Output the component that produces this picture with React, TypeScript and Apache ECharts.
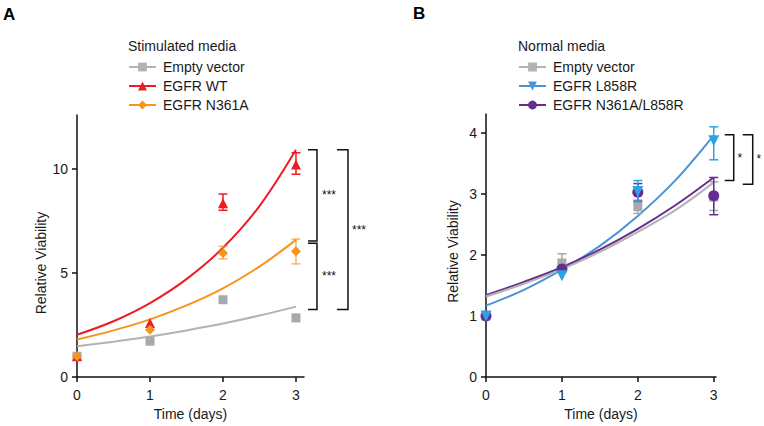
import React, { useEffect, useRef } from "react";
import * as echarts from "echarts";

const FONT = "'Liberation Sans', Arial, Helvetica, sans-serif";

// Time points (days) for the measured means and for the fitted growth curves
const days = [0, 1, 2, 3];
const fitDays = [0, 0.5, 1, 1.5, 2, 2.5, 3];

// ---- Panel A: stimulated media ----
const aEmptyMean = [1.0, 1.72, 3.71, 2.84];
const aWtMean = [1.0, 2.6, 8.34, 10.2];
const aWtLow = [null, null, 8.0, 9.73];
const aWtHigh = [null, null, 8.78, 10.76];
const aN361aMean = [1.0, 2.27, 5.95, 6.03];
const aN361aLow = [null, null, 5.67, 5.43];
const aN361aHigh = [null, null, 6.27, 6.62];

const aEmptyFit = [1.48, 1.7, 1.95, 2.24, 2.57, 2.95, 3.38];
const aWtFit = [2.03, 2.68, 3.55, 4.7, 6.2, 8.2, 10.9];
const aN361aFit = [1.8, 2.24, 2.77, 3.44, 4.26, 5.3, 6.58];

// ---- Panel B: normal media ----
const bEmptyMean = [1.0, 1.87, 2.79, 2.95];
const bEmptyLow = [null, 1.72, 2.68, 2.73];
const bEmptyHigh = [null, 2.02, 2.9, 3.2];
const bL858rMean = [1.0, 1.66, 3.04, 3.87];
const bL858rLow = [null, null, 2.87, 3.56];
const bL858rHigh = [null, null, 3.22, 4.1];
const bDoubleMean = [1.0, 1.77, 3.03, 2.97];
const bDoubleLow = [null, null, 2.88, 2.66];
const bDoubleHigh = [null, null, 3.17, 3.27];

const bEmptyFit = [1.32, 1.53, 1.77, 2.05, 2.38, 2.74, 3.19];
const bL858rFit = [1.17, 1.43, 1.76, 2.15, 2.64, 3.23, 3.96];
const bDoubleFit = [1.34, 1.56, 1.8, 2.09, 2.43, 2.82, 3.27];

// Axis ticks
const aYTicks = [0, 5, 10];
const bYTicks = [0, 1, 2, 3, 4];
const xTicks = [0, 1, 2, 3];

// Legend entries
const aLegendTitle = "Stimulated media";
const bLegendTitle = "Normal media";
const aNames = ["Empty vector", "EGFR WT", "EGFR N361A"];
const bNames = ["Empty vector", "EGFR L858R", "EGFR N361A/L858R"];

// Significance brackets: [upper value, lower value] at day 3
const aBrackets = [
  { top: 10.9, bottom: 6.53, dx0: 12, dx1: 21, label: "***", labelDx: 33 },
  { top: 6.42, bottom: 3.24, dx0: 12, dx1: 21, label: "***", labelDx: 33 },
  { top: 10.9, bottom: 3.24, dx0: 41, dx1: 52, label: "***", labelDx: 63 },
];
const bBrackets = [
  { top: 3.97, bottom: 3.22, dx0: 11, dx1: 20, label: "*", labelDx: 26 },
  { top: 3.97, bottom: 3.16, dx0: 29, dx1: 39, label: "*", labelDx: 45 },
];

const GRAY = "#a7a9ac";
const GRAY_LINE = "#b3b3b3";
const RED = "#ed1c24";
const ORANGE = "#f7941d";
const BLUE = "#2ea3e3";
const BLUE_LINE = "#4a93d6";
const PURPLE = "#662d91";

const DOWN_TRIANGLE = "path://M0,0 L10,0 L5,9 Z";

const pairs = (xs: number[], ys: number[]) => xs.map((x, i) => [x, ys[i]]);

const errorRows = (low: (number | null)[], high: (number | null)[]) =>
  days
    .map((d, i) => (low[i] == null || high[i] == null ? null : [d, low[i], high[i]]))
    .filter((r) => r !== null) as number[][];

function fitSeries(name: string, idx: number, fit: number[], color: string, symbol: string, size: number) {
  return {
    type: "line",
    name,
    xAxisIndex: idx,
    yAxisIndex: idx,
    data: pairs(fitDays, fit),
    smooth: 0.35,
    showSymbol: false,
    symbol,
    symbolSize: size,
    itemStyle: { color },
    lineStyle: { color, width: 2 },
    silent: true,
    z: 2,
  };
}

function pointSeries(name: string, idx: number, mean: number[], color: string, symbol: string, size: number, z: number) {
  return {
    type: "scatter",
    name,
    xAxisIndex: idx,
    yAxisIndex: idx,
    data: pairs(days, mean),
    symbol,
    symbolSize: size,
    itemStyle: { color, opacity: 1 },
    silent: true,
    z,
  };
}

function errorSeries(name: string, idx: number, rows: number[][], color: string, opacity: number, z: number) {
  return {
    type: "custom",
    name,
    xAxisIndex: idx,
    yAxisIndex: idx,
    data: rows,
    encode: { x: 0, y: [1, 2] },
    silent: true,
    z,
    renderItem: (_params: any, api: any) => {
      const x = api.value(0);
      const top = api.coord([x, api.value(2)]);
      const bot = api.coord([x, api.value(1)]);
      const half = 4.5;
      const style = { stroke: color, lineWidth: 1.5, opacity };
      return {
        type: "group",
        children: [
          { type: "line", shape: { x1: top[0], y1: top[1], x2: bot[0], y2: bot[1] }, style },
          { type: "line", shape: { x1: top[0] - half, y1: top[1], x2: top[0] + half, y2: top[1] }, style },
          { type: "line", shape: { x1: bot[0] - half, y1: bot[1], x2: bot[0] + half, y2: bot[1] }, style },
        ],
      };
    },
  };
}

const axisCommon = {
  axisLine: { show: true, onZero: false, lineStyle: { color: "#111", width: 1.5 } },
  axisTick: { show: true, inside: false, length: 5, lineStyle: { color: "#111", width: 1.5 } },
  splitLine: { show: false },
};

function xAxis(idx: number, max: number) {
  return {
    type: "value",
    gridIndex: idx,
    min: 0,
    max,
    ...axisCommon,
    axisTick: { ...axisCommon.axisTick, customValues: xTicks },
    axisLabel: { customValues: xTicks, fontSize: 14, color: "#1a1a1a", fontFamily: FONT, margin: 11 },
    name: "Time (days)",
    nameLocation: "middle",
    nameGap: 24,
    nameTextStyle: { fontSize: 14, color: "#1a1a1a", fontFamily: FONT },
  };
}

function yAxis(idx: number, max: number, ticks: number[], gap: number, shift: number) {
  return {
    type: "value",
    gridIndex: idx,
    min: 0,
    max,
    ...axisCommon,
    axisTick: { ...axisCommon.axisTick, customValues: ticks },
    axisLabel: { customValues: ticks, fontSize: 14, color: "#1a1a1a", fontFamily: FONT, margin: 9 },
    name: "Relative Viability",
    nameLocation: "middle",
    nameGap: gap,
    nameTextStyle: { fontSize: 14, color: "#1a1a1a", fontFamily: FONT, padding: [0, shift, 0, 0] },
  };
}

function legend(left: number, names: string[]) {
  return {
    orient: "vertical",
    left,
    top: 60,
    padding: 0,
    itemWidth: 27,
    itemHeight: 11,
    itemGap: 5,
    selectedMode: false,
    data: names,
    textStyle: { fontSize: 14, color: "#1a1a1a", fontFamily: FONT, padding: [0, 0, 0, 2] },
  };
}

export default function App() {
  const ref = useRef<HTMLDivElement>(null);

  useEffect(() => {
    if (!ref.current) return;
    const chart = echarts.init(ref.current, undefined, { renderer: "svg" });

    chart.setOption({
      animation: false,
      backgroundColor: "#ffffff",
      grid: [
        { left: 77, top: 115, width: 227, bottom: 45 },
        { left: 486, top: 114, width: 230, bottom: 45 },
      ],
      xAxis: [xAxis(0, 3.11), xAxis(1, 3.03)],
      yAxis: [yAxis(0, 12.57, aYTicks, 29, 34), yAxis(1, 4.31, bYTicks, 26, 12)],
      legend: [legend(128, aNames), legend(518, bNames)],
      series: [
        // Panel A
        fitSeries(aNames[0], 0, aEmptyFit, GRAY_LINE, "rect", 9),
        fitSeries(aNames[1], 0, aWtFit, RED, "triangle", 10),
        fitSeries(aNames[2], 0, aN361aFit, ORANGE, "diamond", 10),
        pointSeries(aNames[0], 0, aEmptyMean, GRAY, "rect", 9, 3),
        errorSeries(aNames[1], 0, errorRows(aWtLow, aWtHigh), RED, 1, 4),
        pointSeries(aNames[1], 0, aWtMean, RED, "triangle", 10, 4),
        errorSeries(aNames[2], 0, errorRows(aN361aLow, aN361aHigh), ORANGE, 0.7, 5),
        pointSeries(aNames[2], 0, aN361aMean, ORANGE, "diamond", 10, 5),
        // Panel B
        fitSeries(bNames[1], 1, bL858rFit, BLUE_LINE, DOWN_TRIANGLE, 10),
        fitSeries(bNames[2], 1, bDoubleFit, PURPLE, "circle", 10),
        fitSeries(bNames[0] + " ", 1, bEmptyFit, GRAY_LINE, "rect", 9),
        errorSeries(bNames[0] + " ", 1, errorRows(bEmptyLow, bEmptyHigh), GRAY, 1, 3),
        pointSeries(bNames[0] + " ", 1, bEmptyMean, GRAY, "rect", 9, 3),
        errorSeries(bNames[2], 1, errorRows(bDoubleLow, bDoubleHigh), PURPLE, 1, 4),
        pointSeries(bNames[2], 1, bDoubleMean, PURPLE, "circle", 11, 4),
        errorSeries(bNames[1], 1, errorRows(bL858rLow, bL858rHigh), BLUE, 1, 5),
        pointSeries(bNames[1], 1, bL858rMean, BLUE, DOWN_TRIANGLE, 11, 5),
      ],
    });

    // Brackets are placed from data values at day 3, offset to the right of the last point
    const bracketGraphics = (grid: number, specs: typeof aBrackets) =>
      specs.flatMap((s) => {
        const pTop = chart.convertToPixel({ gridIndex: grid }, [3, s.top]) as number[];
        const pBot = chart.convertToPixel({ gridIndex: grid }, [3, s.bottom]) as number[];
        const x0 = pTop[0] + s.dx0;
        const x1 = pTop[0] + s.dx1;
        return [
          {
            type: "polyline",
            shape: { points: [[x0, pTop[1]], [x1, pTop[1]], [x1, pBot[1]], [x0, pBot[1]]] },
            style: { stroke: "#111", lineWidth: 1.5, fill: null },
          },
          {
            type: "text",
            x: pTop[0] + s.labelDx,
            y: (pTop[1] + pBot[1]) / 2,
            style: {
              text: s.label,
              font: `12px ${FONT}`,
              fill: "#111",
              align: "center",
              verticalAlign: "middle",
            },
          },
        ];
      });

    chart.setOption({
      graphic: [
        { type: "text", x: 3, y: 14, style: { text: "A", font: `bold 17px ${FONT}`, fill: "#000", verticalAlign: "middle" } },
        { type: "text", x: 413, y: 13, style: { text: "B", font: `bold 17px ${FONT}`, fill: "#000", verticalAlign: "middle" } },
        { type: "text", x: 128, y: 46, style: { text: aLegendTitle, font: `14px ${FONT}`, fill: "#1a1a1a", verticalAlign: "middle" } },
        { type: "text", x: 518, y: 46, style: { text: bLegendTitle, font: `14px ${FONT}`, fill: "#1a1a1a", verticalAlign: "middle" } },
        ...bracketGraphics(0, aBrackets),
        ...bracketGraphics(1, bBrackets),
      ],
    });

    return () => chart.dispose();
  }, []);

  return <div ref={ref} style={{ position: "fixed", left: 0, top: 0, width: 764, height: 426 }} />;
}
